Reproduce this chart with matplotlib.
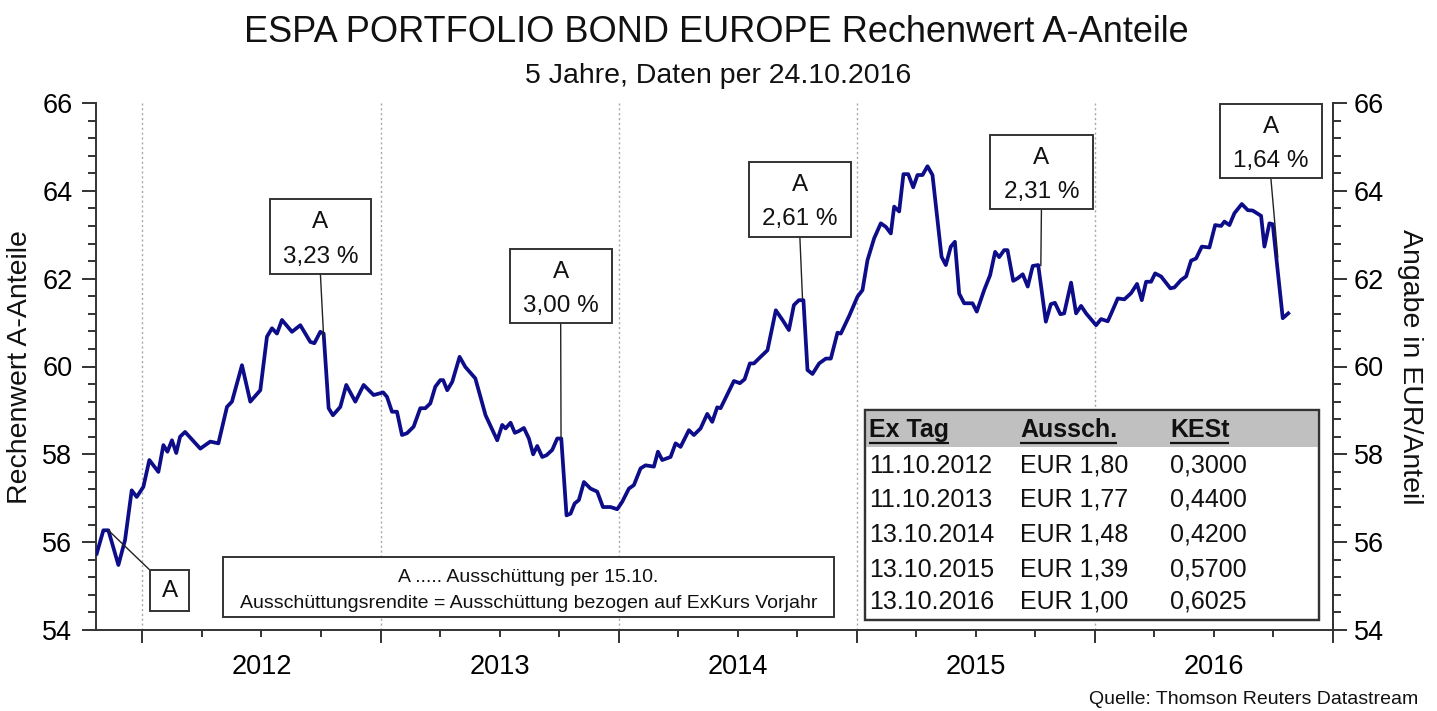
import matplotlib
matplotlib.use('Agg')
import matplotlib.pyplot as plt
from matplotlib.patches import Rectangle

plt.rcParams['font.family'] = ['Liberation Sans', 'DejaVu Sans']

# ---------------- data (decimal years, EUR per share) ----------------
years = [2011.808, 2011.836, 2011.857, 2011.899, 2011.927, 2011.955, 2011.976, 2012.004, 2012.029, 2012.067,
         2012.088, 2012.105, 2012.124, 2012.142, 2012.158, 2012.179, 2012.243, 2012.285, 2012.319, 2012.355,
         2012.376, 2012.418, 2012.453, 2012.495, 2012.523, 2012.544, 2012.565, 2012.586, 2012.628, 2012.663,
         2012.705, 2012.722, 2012.747, 2012.761, 2012.782, 2012.800, 2012.831, 2012.856, 2012.894, 2012.929,
         2012.971, 2013.011, 2013.027, 2013.048, 2013.069, 2013.090, 2013.111, 2013.139, 2013.167, 2013.188,
         2013.209, 2013.230, 2013.251, 2013.263, 2013.280, 2013.301, 2013.332, 2013.356, 2013.398, 2013.441,
         2013.490, 2013.511, 2013.525, 2013.546, 2013.564, 2013.581, 2013.602, 2013.623, 2013.641, 2013.658,
         2013.679, 2013.697, 2013.721, 2013.742, 2013.759, 2013.781, 2013.798, 2013.815, 2013.833, 2013.854,
         2013.882, 2013.910, 2013.934, 2013.966, 2013.994, 2014.015, 2014.043, 2014.064, 2014.092, 2014.113,
         2014.148, 2014.165, 2014.183, 2014.218, 2014.239, 2014.260, 2014.295, 2014.316, 2014.344, 2014.372,
         2014.393, 2014.414, 2014.428, 2014.484, 2014.509, 2014.529, 2014.551, 2014.568, 2014.596, 2014.625,
         2014.660, 2014.688, 2014.715, 2014.736, 2014.757, 2014.776, 2014.793, 2014.814, 2014.842, 2014.870,
         2014.891, 2014.919, 2014.933, 2014.968, 2015.003, 2015.024, 2015.045, 2015.073, 2015.101, 2015.122,
         2015.143, 2015.157, 2015.178, 2015.196, 2015.216, 2015.237, 2015.255, 2015.276, 2015.297, 2015.318,
         2015.356, 2015.374, 2015.395, 2015.412, 2015.430, 2015.451, 2015.486, 2015.504, 2015.535, 2015.560,
         2015.581, 2015.598, 2015.619, 2015.633, 2015.657, 2015.676, 2015.697, 2015.718, 2015.739, 2015.762,
         2015.794, 2015.815, 2015.832, 2015.855, 2015.871, 2015.900, 2015.921, 2015.942, 2015.963, 2016.005,
         2016.026, 2016.054, 2016.068, 2016.096, 2016.124, 2016.152, 2016.177, 2016.197, 2016.215, 2016.236,
         2016.253, 2016.278, 2016.317, 2016.334, 2016.362, 2016.383, 2016.404, 2016.425, 2016.449, 2016.481,
         2016.505, 2016.530, 2016.544, 2016.565, 2016.586, 2016.617, 2016.642, 2016.663, 2016.698, 2016.712,
         2016.733, 2016.747, 2016.789, 2016.812]
values = [55.74, 56.27, 56.27, 55.48, 56.05, 57.18, 57.03, 57.26, 57.87, 57.60,
          58.21, 58.06, 58.32, 58.03, 58.40, 58.51, 58.13, 58.29, 58.25, 59.08,
          59.20, 60.03, 59.20, 59.46, 60.68, 60.87, 60.75, 61.06, 60.79, 60.94,
          60.56, 60.53, 60.79, 60.75, 59.05, 58.89, 59.08, 59.58, 59.20, 59.58,
          59.35, 59.41, 59.31, 58.97, 58.97, 58.44, 58.48, 58.63, 59.05, 59.05,
          59.16, 59.54, 59.69, 59.69, 59.46, 59.65, 60.22, 59.99, 59.73, 58.89,
          58.32, 58.67, 58.59, 58.72, 58.49, 58.53, 58.60, 58.36, 58.00, 58.19,
          57.94, 57.98, 58.10, 58.36, 58.36, 56.61, 56.65, 56.88, 56.96, 57.37,
          57.22, 57.15, 56.80, 56.80, 56.75, 56.92, 57.22, 57.30, 57.68, 57.75,
          57.72, 58.06, 57.87, 57.94, 58.25, 58.17, 58.55, 58.44, 58.59, 58.92,
          58.74, 59.07, 59.05, 59.67, 59.62, 59.71, 60.07, 60.07, 60.22, 60.37,
          61.28, 61.06, 60.83, 61.40, 61.51, 61.51, 59.92, 59.83, 60.07, 60.18,
          60.18, 60.77, 60.75, 61.15, 61.59, 61.74, 62.42, 62.92, 63.26, 63.18,
          63.03, 63.64, 63.53, 64.38, 64.38, 64.08, 64.36, 64.36, 64.56, 64.36,
          62.50, 62.31, 62.73, 62.84, 61.66, 61.44, 61.44, 61.25, 61.74, 62.08,
          62.61, 62.49, 62.65, 62.65, 61.95, 62.01, 62.10, 61.82, 62.29, 62.31,
          61.02, 61.42, 61.45, 61.19, 61.21, 61.91, 61.21, 61.38, 61.21, 60.94,
          61.08, 61.03, 61.20, 61.55, 61.53, 61.67, 61.88, 61.51, 61.93, 61.93,
          62.12, 62.05, 61.78, 61.80, 61.97, 62.05, 62.41, 62.46, 62.73, 62.71,
          63.22, 63.20, 63.30, 63.22, 63.49, 63.70, 63.56, 63.55, 63.43, 62.73,
          63.26, 63.24, 61.10, 61.21]

year_labels = ['2012', '2013', '2014', '2015', '2016']
y_ticks = [54, 56, 58, 60, 62, 64, 66]

# distribution annotations: text, box (x0, x1, y0, y1 in data), leader target (x, y)
ann_texts = [('A', None), ('A', '3,23 %'), ('A', '3,00 %'), ('A', '2,61 %'), ('A', '2,31 %'), ('A', '1,64 %')]
ann_boxes = [(2012.032, 2012.196, 54.43, 55.36),
             (2012.534, 2012.961, 62.10, 63.81),
             (2013.543, 2013.970, 60.98, 62.67),
             (2014.547, 2014.975, 62.95, 64.65),
             (2015.560, 2015.991, 63.58, 65.27),
             (2016.525, 2016.953, 64.29, 65.98)]
ann_targets = [(2011.857, 56.27), (2012.761, 60.67), (2013.758, 58.38),
               (2014.772, 61.55), (2015.773, 62.30), (2016.768, 62.50)]

table_header = ['Ex Tag', 'Aussch.', 'KESt']
table_dates = ['11.10.2012', '11.10.2013', '13.10.2014', '13.10.2015', '13.10.2016']
table_payout = ['EUR 1,80', 'EUR 1,77', 'EUR 1,48', 'EUR 1,39', 'EUR 1,00']
table_kest = ['0,3000', '0,4400', '0,4200', '0,5700', '0,6025']

# ---------------- figure ----------------
W, H = 1437, 711
fig = plt.figure(figsize=(W / 100, H / 100), dpi=100)
ax = fig.add_axes([96 / W, 1 - 630 / H, (1333 - 96) / W, (630 - 103) / H])

LINE = '#0d0d8a'
SP = '#333333'

ax.set_xlim(2011.805, 2017.0)
ax.set_ylim(54, 66)

for yr in range(2012, 2017):
    ax.axvline(yr, color='#a8a8a8', lw=1.0, ls=(0, (1.5, 2)), zorder=1)

ax.plot(years, values, color=LINE, lw=2.7, solid_joinstyle='round', zorder=3)

# spines
for s in ['top']:
    ax.spines[s].set_visible(False)
for s in ['left', 'right', 'bottom']:
    ax.spines[s].set_color(SP)
    ax.spines[s].set_linewidth(1.4)

# x ticks
year_bounds = list(range(2012, 2018))
ax.set_xticks(year_bounds)
ax.set_xticklabels([''] * len(year_bounds))
quarters, qlabels = [], []
for i, yr in enumerate(range(2012, 2017)):
    for q, lab in [(0.25, ''), (0.5, year_labels[i]), (0.75, '')]:
        quarters.append(yr + q)
        qlabels.append(lab)
ax.set_xticks(quarters, minor=True)
ax.set_xticklabels(qlabels, minor=True)
ax.tick_params(axis='x', which='major', length=9, width=1.4, color=SP, direction='out')
ax.tick_params(axis='x', which='minor', length=5, width=1.4, color=SP, direction='out',
               labelsize=19.5, pad=12)

# y ticks
ax.set_yticks(y_ticks)
ax.set_yticklabels([str(v) for v in y_ticks])
minor_y = [54 + 0.4 * i for i in range(31)]
ax.set_yticks(minor_y, minor=True)
ax.tick_params(axis='y', which='major', length=10, width=1.4, color=SP, labelsize=19.5, pad=7)
ax.tick_params(axis='y', which='minor', length=6, width=1.4, color=SP)

ax2 = ax.twinx()
ax2.set_ylim(54, 66)
ax2.set_yticks(y_ticks)
ax2.set_yticklabels([str(v) for v in y_ticks])
ax2.set_yticks(minor_y, minor=True)
ax2.tick_params(axis='y', which='major', length=10, width=1.4, color=SP, labelsize=19.5, pad=5)
ax2.tick_params(axis='y', which='minor', length=6, width=1.4, color=SP)
for s in ['top', 'left', 'bottom']:
    ax2.spines[s].set_visible(False)
ax2.spines['right'].set_color(SP)
ax2.spines['right'].set_linewidth(1.4)

# titles and labels
fig.text(0.4986, 1 - 42 / H, 'ESPA PORTFOLIO BOND EUROPE Rechenwert A-Anteile',
         ha='center', va='baseline', fontsize=26, color='#111111')
fig.text(0.4996, 1 - 83 / H, '5 Jahre, Daten per 24.10.2016',
         ha='center', va='baseline', fontsize=20.5, color='#111111')
fig.text(20 / W, 1 - 367 / H, 'Rechenwert A-Anteile', rotation=90,
         ha='center', va='center', fontsize=20.5, color='#111111')
fig.text(1410 / W, 1 - 367 / H, 'Angabe in EUR/Anteil', rotation=270,
         ha='center', va='center', fontsize=20.5, color='#111111')
fig.text(1418 / W, 1 - 700 / H, 'Quelle: Thomson Reuters Datastream',
         ha='right', va='center', fontsize=14, color='#111111')

# annotation boxes
for i, ((t1, t2), (x0, x1, y0, y1), (tx, ty)) in enumerate(zip(ann_texts, ann_boxes, ann_targets)):
    ax.add_patch(Rectangle((x0, y0), x1 - x0, y1 - y0, facecolor='white',
                           edgecolor=SP, lw=1.4, zorder=6))
    xc = (x0 + x1) / 2
    if t2 is None:
        ax.text(xc, (y0 + y1) / 2, t1, ha='center', va='center', fontsize=17.5,
                color='#111111', zorder=7)
        ax.plot([tx, x0], [ty, y1], color='#222222', lw=1.0, zorder=5)
    else:
        h = y1 - y0
        ax.text(xc, y1 - 0.31 * h, t1, ha='center', va='center', fontsize=17.5,
                color='#111111', zorder=7)
        ax.text(xc, y1 - 0.765 * h, t2, ha='center', va='center', fontsize=17.5,
                color='#111111', zorder=7)
        ax.plot([xc, tx], [y0, ty], color='#222222', lw=1.0, zorder=5)

# legend box (axes coords)
ax.add_patch(Rectangle((0.1027, 0.0247), 0.5966 - 0.1027, 0.1385 - 0.0247,
                       transform=ax.transAxes, facecolor='white', edgecolor=SP, lw=1.4, zorder=6))
ax.text(0.3496, 0.0987, 'A ..... Ausschüttung per 15.10.', transform=ax.transAxes,
        ha='center', va='center', fontsize=14, color='#111111', zorder=7)
ax.text(0.3496, 0.0512, 'Ausschüttungsrendite = Ausschüttung bezogen auf ExKurs Vorjahr',
        transform=ax.transAxes, ha='center', va='center', fontsize=14, color='#111111', zorder=7)

# table (axes coords)
tx0, tx1, ty0, ty1 = 0.6217, 0.9889, 0.019, 0.4175
ax.add_patch(Rectangle((tx0, ty0), tx1 - tx0, ty1 - ty0, transform=ax.transAxes,
                       facecolor='white', edgecolor=SP, lw=1.6, zorder=6))
ax.add_patch(Rectangle((tx0, 0.3478), tx1 - tx0, ty1 - 0.3478, transform=ax.transAxes,
                       facecolor='#c0c0c0', edgecolor='none', lw=0, zorder=6.5))
ax.add_patch(Rectangle((tx0, ty0), tx1 - tx0, ty1 - ty0, transform=ax.transAxes,
                       facecolor='none', edgecolor=SP, lw=1.6, zorder=6.6))
col_x = [0.6251, 0.7470, 0.8682]
row_y = [0.3118, 0.2467, 0.1803, 0.1139, 0.0537]
header_texts = []
for cx, lab in zip(col_x, table_header):
    header_texts.append(ax.text(cx, 0.3795, lab, transform=ax.transAxes, ha='left', va='center',
                                fontsize=18, fontweight='bold', color='#111111', zorder=7))
for ry, a, b, c in zip(row_y, table_dates, table_payout, table_kest):
    for cx, lab in zip(col_x, (a, b, c)):
        ax.text(cx, ry, lab, transform=ax.transAxes, ha='left', va='center',
                fontsize=18, color='#111111', zorder=7)

fig.canvas.draw()
inv = ax.transAxes.inverted()
for t in header_texts:
    bb = t.get_window_extent()
    (xa, _), (xb, _) = inv.transform([(bb.x0, 0), (bb.x1, 0)])
    uy = (630 - 443) / 527
    ax.plot([xa, xb], [uy, uy], transform=ax.transAxes, color='#111111', lw=1.6,
            solid_capstyle='butt', zorder=7)

fig.savefig('out.png', dpi=100)
